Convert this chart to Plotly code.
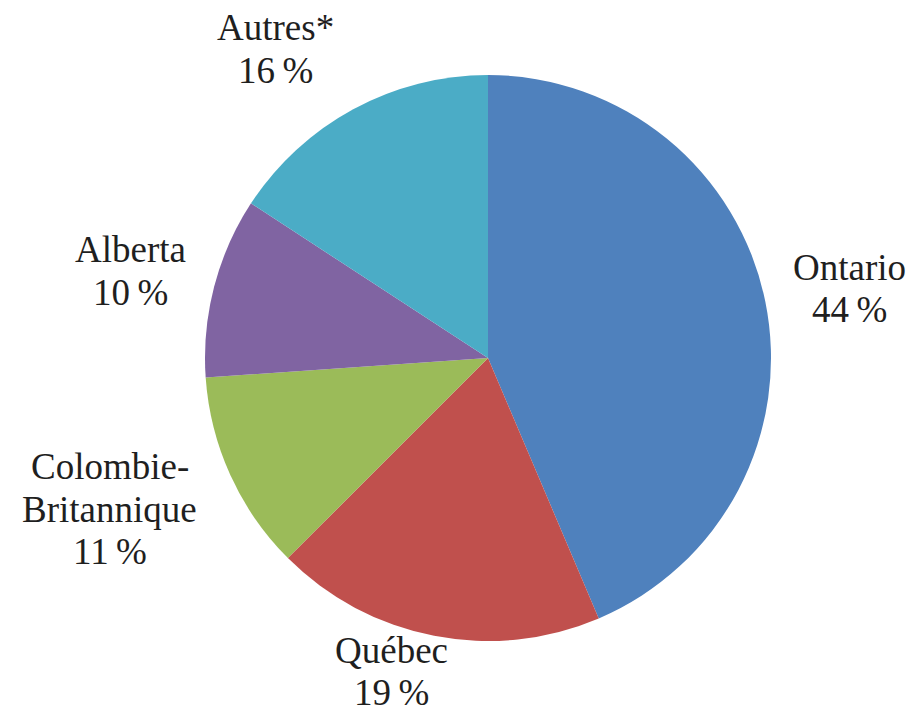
import math
import plotly.graph_objects as go

# ---- data ----
regions = ["Ontario", "Québec", "Colombie-Britannique", "Alberta", "Autres*"]
label_lines = [["Ontario"], ["Québec"], ["Colombie-", "Britannique"], ["Alberta"], ["Autres*"]]
shares = [43.6, 18.9, 11.4, 10.3, 15.8]
colors = ["#4F81BD", "#C0504D", "#9BBB59", "#8064A2", "#4BACC6"]

# ---- layout geometry (pixels) ----
W, H = 914, 717
CX, CY, R = 488, 358, 283
FONT = "Liberation Serif"
FS = 37
LINE = 42.5
TXT = "#1f1f1f"

# label placement relative to each slice's mid-angle: distance beyond rim, tangential shift
label_out = [85, 43, 124, 85, 90]
label_tan = [4, 35, 19, -6, -40]

fig = go.Figure(go.Pie(
    labels=regions,
    values=shares,
    sort=False,
    direction="clockwise",
    rotation=0,
    marker=dict(colors=colors, line=dict(width=0)),
    textinfo="none",
    hoverinfo="label+percent",
    domain=dict(x=[(CX - R) / W, (CX + R) / W], y=[1 - (CY + R) / H, 1 - (CY - R) / H]),
    showlegend=False,
))

total = sum(shares)
cum = 0.0
annotations = []
for i, v in enumerate(shares):
    mid = (cum + v / 2) / total * 2 * math.pi
    cum += v
    ux, uy = math.sin(mid), -math.cos(mid)
    tx, ty = math.cos(mid), math.sin(mid)
    d = R + label_out[i]
    px = CX + d * ux + label_tan[i] * tx
    py = CY + d * uy + label_tan[i] * ty
    lines = label_lines[i] + [f"{round(v / total * 100)}\u202f%"]
    n = len(lines)
    for k, txt in enumerate(lines):
        ly = py + (k - (n - 1) / 2) * LINE
        annotations.append(dict(
            x=px / W, y=1 - ly / H, xref="paper", yref="paper",
            text=txt, showarrow=False, xanchor="center", yanchor="middle",
            font=dict(family=FONT, size=FS, color=TXT),
        ))

fig.update_layout(
    width=W, height=H,
    margin=dict(l=0, r=0, t=0, b=0),
    paper_bgcolor="white", plot_bgcolor="white",
    annotations=annotations,
)

fig.write_html(
    "out.html",
    config={"displayModeBar": False},
    post_script="document.body.style.margin='0';document.body.style.overflow='hidden';",
)
